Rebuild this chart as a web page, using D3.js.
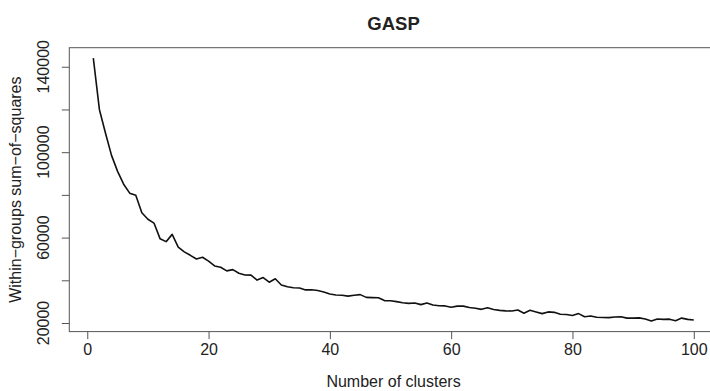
<!DOCTYPE html>
<html>
<head>
<meta charset="utf-8">
<script src="https://cdn.jsdelivr.net/npm/d3@7"></script>
<style>
  html, body { margin: 0; padding: 0; background: #fff; }
  svg { display: block; font-family: "Liberation Sans", Arial, sans-serif; }
</style>
</head>
<body>
<div id="chart"></div>
<script>
const title = 'GASP';
const xLabel = 'Number of clusters';
const yLabel = 'Within\u2212groups sum\u2212of\u2212squares';

// within-groups sum of squares for k = 1..100
const clusters = d3.range(1, 101);
const wss = [
  144000, 120000, 109000, 98500, 91000, 85000, 80800, 79800, 71600, 68600,
  66800, 59500, 58100, 61500, 55500, 53300, 51700, 50000, 50800, 49000,
  46700, 46100, 44400, 45000, 43300, 42500, 42400, 40100, 41300, 39100,
  40700, 37800, 37000, 36500, 36400, 35500, 35600, 35200, 34500, 33600,
  33100, 33000, 32600, 33000, 33300, 32000, 31900, 31800, 30500, 30400,
  30000, 29500, 29200, 29400, 28600, 29400, 28400, 28100, 28000, 27400,
  27900, 27900, 27300, 26900, 26400, 27100, 26300, 25900, 25700, 25600,
  26100, 24600, 26000, 25200, 24400, 25200, 25000, 24100, 24000, 23500,
  24400, 22900, 23300, 22700, 22600, 22500, 22800, 22900, 22300, 22300,
  22400, 21900, 20900, 21900, 21700, 21800, 21100, 22300, 21700, 21400
];
const xTicks = [0, 20, 40, 60, 80, 100];
const yTicks = [20000, 40000, 60000, 80000, 100000, 120000, 140000];
const yTickLabels = [20000, 60000, 100000, 140000];

const width = 710, height = 391;
const box = { left: 69.3, right: 717.8, top: 47.7, bottom: 331.6 };
const axisColor = '#555';

// R style 4% range extension
const pad = (lo, hi) => { const d = (hi - lo) * 0.04; return [lo - d, hi + d]; };

const x = d3.scaleLinear()
  .domain(pad(d3.min(clusters), d3.max(clusters)))
  .range([box.left, box.right]);
const y = d3.scaleLinear()
  .domain(pad(d3.min(wss), d3.max(wss)))
  .range([box.bottom, box.top]);

const svg = d3.select('#chart').append('svg')
  .attr('width', width)
  .attr('height', height);

// plot box
svg.append('rect')
  .attr('x', box.left).attr('y', box.top)
  .attr('width', box.right - box.left).attr('height', box.bottom - box.top)
  .attr('fill', 'none').attr('stroke', axisColor).attr('stroke-width', 1);

// x axis
svg.append('g')
  .attr('transform', `translate(0,${box.bottom})`)
  .call(d3.axisBottom(x).tickValues(xTicks).tickSize(7.5).tickPadding(5).tickSizeOuter(0))
  .call(g => g.select('.domain').remove())
  .call(g => g.selectAll('.tick line').attr('stroke', axisColor))
  .call(g => g.selectAll('.tick text').attr('fill', '#222').style('font-size', '16px'));

// y axis
svg.append('g')
  .attr('transform', `translate(${box.left},0)`)
  .call(d3.axisLeft(y).tickValues(yTicks).tickSize(7.5).tickFormat(() => '').tickSizeOuter(0))
  .call(g => g.select('.domain').remove())
  .call(g => g.selectAll('.tick line').attr('stroke', axisColor));

svg.append('g').selectAll('text')
  .data(yTickLabels)
  .join('text')
  .attr('transform', d => `translate(${box.left - 20},${y(d)}) rotate(-90)`)
  .attr('text-anchor', 'middle')
  .attr('fill', '#222')
  .style('font-size', '16px')
  .text(d => d);

// line
svg.append('path')
  .datum(clusters.map((k, i) => [k, wss[i]]))
  .attr('fill', 'none')
  .attr('stroke', '#111')
  .attr('stroke-width', 1.6)
  .attr('stroke-linejoin', 'round')
  .attr('d', d3.line().x(d => x(d[0])).y(d => y(d[1])));

// title and labels
svg.append('text')
  .attr('x', (box.left + box.right) / 2).attr('y', 30)
  .attr('text-anchor', 'middle')
  .attr('fill', '#222')
  .style('font-size', '18.5px').style('font-weight', 'bold')
  .text(title);

svg.append('text')
  .attr('x', (box.left + box.right) / 2).attr('y', 387)
  .attr('text-anchor', 'middle')
  .attr('fill', '#222')
  .style('font-size', '16px')
  .text(xLabel);

svg.append('text')
  .attr('transform', `translate(21,${(box.top + box.bottom) / 2}) rotate(-90)`)
  .attr('text-anchor', 'middle')
  .attr('fill', '#222')
  .style('font-size', '16px')
  .text(yLabel);
</script>
</body>
</html>
